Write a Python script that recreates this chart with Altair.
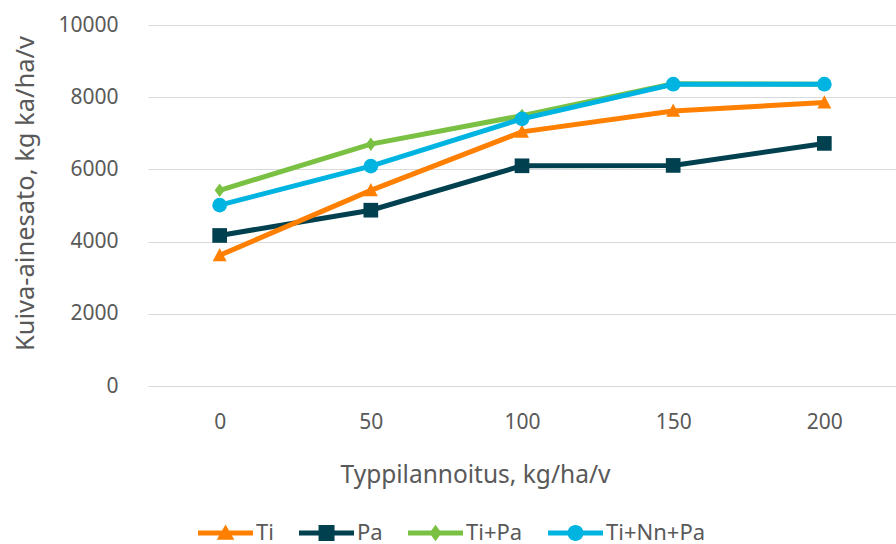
import altair as alt
import pandas as pd

# Nitrogen fertilisation levels (kg/ha/v) on the category axis
typpi = ["0", "50", "100", "150", "200"]

# Series names and dry-matter yields, kg ka/ha/v
sarjat = ["Ti", "Pa", "Ti+Pa", "Ti+Nn+Pa"]
ti = [3620, 5420, 7040, 7620, 7850]
pa = [4170, 4870, 6100, 6110, 6720]
ti_pa = [5420, 6700, 7490, 8370, 8360]
ti_nn_pa = [5010, 6090, 7400, 8360, 8360]

varit = ["#FF8000", "#00404F", "#7AC143", "#00B4E1"]

# Point markers (custom paths within [-1, 1])
merkit = [
    "M0,-1 L0.95,0.8 L-0.95,0.8 Z",
    "square",
    "M0,-0.92 L0.68,0 L0,0.92 L-0.68,0 Z",
    "circle",
]

# Legend glyphs: a 55 px line with the series marker in its middle,
# drawn to the right of the 16 px symbol slot (1 unit = 8 px)
viiva = "M-1,-0.31 H5.875 V0.31 H-1 Z "
selitemerkit = [
    viiva + "M2.44,-1.05 L3.54,0.85 L1.34,0.85 Z",
    viiva + "M1.44,-1 H3.44 V1 H1.44 Z",
    viiva + "M2.44,-1.02 L3.2,0 L2.44,1.02 L1.68,0 Z",
    viiva + "M1.44,0 A1,1 0 1,1 3.44,0 A1,1 0 1,1 1.44,0 Z",
]

arvot = {"Ti": ti, "Pa": pa, "Ti+Pa": ti_pa, "Ti+Nn+Pa": ti_nn_pa}
piirtojarjestys = ["Pa", "Ti", "Ti+Pa", "Ti+Nn+Pa"]
rivit = []
for nimi in piirtojarjestys:
    for t, v in zip(typpi, arvot[nimi]):
        rivit.append({"Typpi": t, "Sato": v, "Sarja": nimi, "Merkki": nimi, "Selite": nimi})
df = pd.DataFrame(rivit)

fontti = "Noto Sans"
harmaa = "#595959"

x = alt.X(
    "Typpi:O",
    sort=typpi,
    scale=alt.Scale(type="point", padding=0.474),
    axis=alt.Axis(
        title="Typpilannoitus, kg/ha/v",
        labelAngle=0,
        ticks=False,
        domain=False,
        grid=False,
        labelBaseline="alphabetic",
        labelPadding=42,
        labelFontSize=21,
        labelColor=harmaa,
        labelFont=fontti,
        titleFontSize=24.5,
        titleFontWeight="normal",
        titleColor=harmaa,
        titleFont=fontti,
        titleBaseline="alphabetic",
        titleX=327,
        titleY=96,
    ),
)
y = alt.Y(
    "Sato:Q",
    scale=alt.Scale(domain=[0, 10000], nice=False),
    axis=alt.Axis(
        title="Kuiva-ainesato, kg ka/ha/v",
        values=[0, 2000, 4000, 6000, 8000, 10000],
        format="d",
        ticks=False,
        domain=False,
        gridColor="#D9D9D9",
        gridWidth=1.2,
        labelPadding=30,
        labelFontSize=21,
        labelColor=harmaa,
        labelFont=fontti,
        titleFontSize=25.5,
        titleFontWeight="normal",
        titleColor=harmaa,
        titleFont=fontti,
        titleBaseline="middle",
        titleX=-123,
        titleY=168,
    ),
)

vari = alt.Scale(domain=sarjat, range=varit)

viivat = alt.Chart(df).mark_line(strokeWidth=5).encode(
    x=x, y=y,
    color=alt.Color("Sarja:N", scale=vari, legend=None),
)

pisteet = alt.Chart(df).mark_point(filled=True, opacity=1, size=215).encode(
    x=x, y=y,
    color=alt.Color("Sarja:N", scale=vari, legend=None),
    shape=alt.Shape("Merkki:N", scale=alt.Scale(domain=sarjat, range=merkit), legend=None),
)

selite = alt.Legend(
    title=None,
    orient="none",
    legendX=47,
    legendY=497,
    direction="horizontal",
    columns=4,
    gridAlign="none",
    symbolSize=256,
    symbolOpacity=1,
    symbolStrokeWidth=0,
    labelFontSize=22,
    labelColor=harmaa,
    labelFont=fontti,
    labelOffset=39,
    columnPadding=22,
    padding=0,
)

selitekerros = alt.Chart(df).mark_point(filled=True, opacity=0, size=10).encode(
    x=x, y=y,
    color=alt.Color("Selite:N", scale=alt.Scale(domain=sarjat, range=varit), legend=selite),
    shape=alt.Shape("Selite:N", scale=alt.Scale(domain=sarjat, range=selitemerkit), legend=selite),
)

chart = (
    alt.layer(viivat, pisteet, selitekerros)
    .resolve_scale(color="independent", shape="independent")
    .resolve_legend(color="independent", shape="independent")
    .properties(
        width=748,
        height=361,
        autosize=alt.AutoSizeParams(type="none"),
        padding={"left": 148, "top": 25, "right": 0, "bottom": 158},
        background="white",
    )
    .configure_view(stroke=None)
)

chart.save("out.html", embed_options={"renderer": "svg", "actions": False})
